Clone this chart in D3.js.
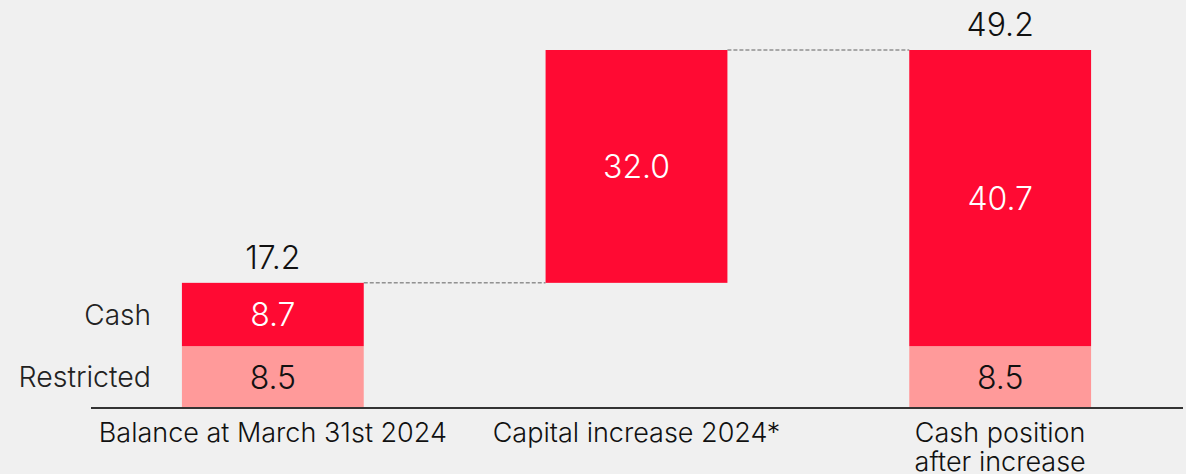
<!DOCTYPE html>
<html><head><meta charset="utf-8">
<script src="https://cdn.jsdelivr.net/npm/d3@7"></script>
<style>
html,body{margin:0;padding:0;background:#f0f0f0;}
svg{display:block;font-family:Inter,Roboto,sans-serif;}
</style></head>
<body>
<svg id="c" width="1186" height="474"></svg>
<script>
const categories = ["Balance at March 31st 2024", "Capital increase 2024*", "Cash position|after increase"];
const restricted = [8.5, 0, 8.5];
const cash = [8.7, 32.0, 40.7];
const offset = [0, 17.2, 0];
const totals = [17.2, null, 49.2];
const seriesNames = ["Cash", "Restricted"];

const svg = d3.select("#c");
const x = d3.scaleBand().domain(categories).range([91, 1182]).paddingInner(0.5).paddingOuter(0.25);
const y = d3.scaleLinear().domain([0, 49.2]).range([408, 50]);
const RED = "#ff0a33", PINK = "#ff9a9a";
const fw = 300;

const data = categories.map((c, i) => ({c, r: restricted[i], k: cash[i], o: offset[i], t: totals[i]}));

// connectors
for (let i = 0; i < data.length - 1; i++) {
  const top = data[i].o + data[i].r + data[i].k;
  svg.append("line")
    .attr("x1", x(data[i].c) + x.bandwidth()).attr("x2", x(data[i + 1].c))
    .attr("y1", y(top)).attr("y2", y(top))
    .attr("stroke", "#606060").attr("stroke-width", 1).attr("stroke-dasharray", "4,2");
}

// restricted
svg.selectAll(".r").data(data.filter(d => d.r > 0)).join("rect")
  .attr("x", d => x(d.c)).attr("width", x.bandwidth())
  .attr("y", d => y(d.o + d.r)).attr("height", d => y(d.o) - y(d.o + d.r))
  .attr("fill", PINK);
// cash
svg.selectAll(".k").data(data).join("rect")
  .attr("x", d => x(d.c)).attr("width", x.bandwidth())
  .attr("y", d => y(d.o + d.r + d.k)).attr("height", d => y(d.o + d.r) - y(d.o + d.r + d.k))
  .attr("fill", RED);

// value labels
svg.selectAll(".rl").data(data.filter(d => d.r > 0)).join("text")
  .attr("x", d => x(d.c) + x.bandwidth() / 2).attr("y", d => y(d.o + d.r / 2))
  .attr("dy", "0.36em").attr("text-anchor", "middle")
  .attr("font-size", 32).attr("font-weight", fw).attr("fill", "#111")
  .text(d => d.r.toFixed(1));
svg.selectAll(".kl").data(data).join("text")
  .attr("x", d => x(d.c) + x.bandwidth() / 2).attr("y", d => y(d.o + d.r + d.k / 2))
  .attr("dy", "0.36em").attr("text-anchor", "middle")
  .attr("font-size", 32).attr("font-weight", fw).attr("fill", "#fff")
  .text(d => d.k.toFixed(1));
svg.selectAll(".tl").data(data.filter(d => d.t != null)).join("text")
  .attr("x", d => x(d.c) + x.bandwidth() / 2).attr("y", d => y(d.t) - 14)
  .attr("text-anchor", "middle")
  .attr("font-size", 32).attr("font-weight", fw).attr("fill", "#111")
  .text(d => d.t.toFixed(1));

// series labels
const d0 = data[0];
svg.append("text").attr("x", 151).attr("y", y(d0.r + d0.k / 2)).attr("dy", "0.36em")
  .attr("text-anchor", "end").attr("font-size", 28).attr("font-weight", fw).attr("fill", "#222")
  .text(seriesNames[0]);
svg.append("text").attr("x", 151).attr("y", y(d0.r / 2)).attr("dy", "0.36em")
  .attr("text-anchor", "end").attr("font-size", 28.5).attr("font-weight", fw).attr("fill", "#222")
  .text(seriesNames[1]);

// axis
const ax = svg.append("g").attr("transform", "translate(0,408)")
  .call(d3.axisBottom(x).tickSize(0).tickPadding(0).tickFormat(""));
ax.select(".domain").attr("stroke", "#333").attr("stroke-width", 2).attr("d", "M91,0H1183");
ax.selectAll(".tick text").remove();
ax.selectAll(".tick").each(function(d) {
  const lines = d.split("|");
  const t = d3.select(this).append("text").attr("text-anchor", "middle")
    .attr("font-size", 27).attr("font-weight", fw).attr("fill", "#111")
    .attr("font-family", "Inter,Roboto,sans-serif");
  lines.forEach((l, i) => t.append("tspan").attr("x", 0).attr("y", 34 + i * 29).text(l));
});
</script>
</body></html>
